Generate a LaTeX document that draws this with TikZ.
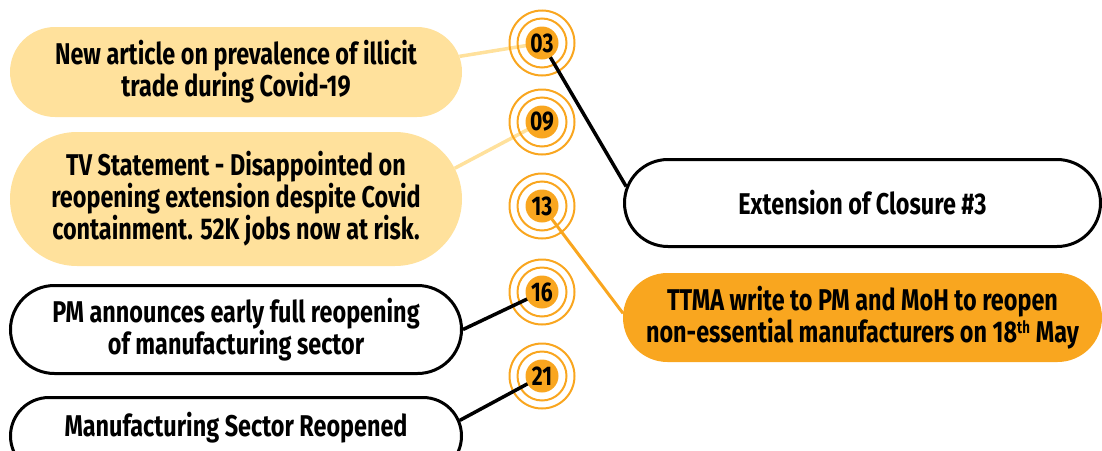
\documentclass[tikz,border=0pt]{standalone}
\usepackage{fontspec}
\setmainfont{Fira Sans}[FakeStretch=0.78]
\usetikzlibrary{shapes.misc}
\pgfdeclarelayer{bg}
\pgfsetlayers{bg,main}
\definecolor{lightyel}{HTML}{FFE19C}
\definecolor{orng}{HTML}{F9A61F}
\begin{document}
\begin{tikzpicture}[x=1pt,y=-1pt,
  box/.style={rounded rectangle, align=center, inner sep=0pt,
    font=\fontsize{30}{30.5}\selectfont\bfseries},
  outlined/.style={draw=black, line width=3pt, fill=white},
  disk/.style={circle, fill=orng, minimum size=33pt, inner sep=0pt,
    font=\fontsize{27}{27}\selectfont\bfseries},
  ring/.style={draw=orng, line width=2pt},
  softlink/.style={draw=lightyel, line width=3.5pt},
  darklink/.style={draw=black, line width=3.5pt},
  oranglink/.style={draw=orng, line width=3pt}]
\useasboundingbox (0,0) rectangle (1102,450);
\clip (0,0) rectangle (1102,450);

% boxes
\node[box, fill=lightyel, minimum width=452pt, minimum height=90pt] (b1) at (236,72)
  {New article on prevalence of illicit\\trade during Covid-19};
\node[box, fill=lightyel, minimum width=452pt, minimum height=134pt] (b2) at (236,199)
  {TV Statement - Disappointed on\\reopening extension despite Covid\\containment. 52K jobs now at risk.};
\node[box, outlined, minimum width=451pt, minimum height=88pt] (pm) at (236,329.5)
  {PM announces early full reopening\\of manufacturing sector};
\node[box, outlined, minimum width=451pt, minimum height=77pt, text height=0pt, text depth=0pt] (mfg) at (236,436)
  {Manufacturing Sector Reopened};
\node[box, outlined, minimum width=476pt, minimum height=87pt] (ext) at (862.5,203)
  {Extension of Closure \#3};
\node[box, fill=orng, minimum width=479pt, minimum height=89pt] (ttma) at (862.5,317.5)
  {TTMA write to PM and MoH to reopen\\non-essential manufacturers on 18\textsuperscript{\fontsize{17}{17}\selectfont th} May};

% number disks
\node[disk] (n03) at (542,43) {03};
\node[disk] (n09) at (542,122) {09};
\node[disk] (n13) at (542,206) {13};
\node[disk] (n16) at (542,292) {16};
\node[disk] (n21) at (542,376) {21};

\begin{pgfonlayer}{bg}
  \draw[softlink] (b1.4) -- (n03.center);
  \draw[softlink] (b2.8) -- (n09.center);
  \foreach \n in {n03,n09,n13,n16,n21}
    \draw[ring] (\n) circle[radius=32.5] (\n) circle[radius=24.5];
  \draw[darklink] (n03.center) -- (ext.176);
  \draw[oranglink] (n13.center) -- (ttma.179);
  \draw[darklink] (pm.east) -- (n16.center);
  \draw[darklink] (mfg.4) -- (n21.center);
\end{pgfonlayer}
\end{tikzpicture}
\end{document}
